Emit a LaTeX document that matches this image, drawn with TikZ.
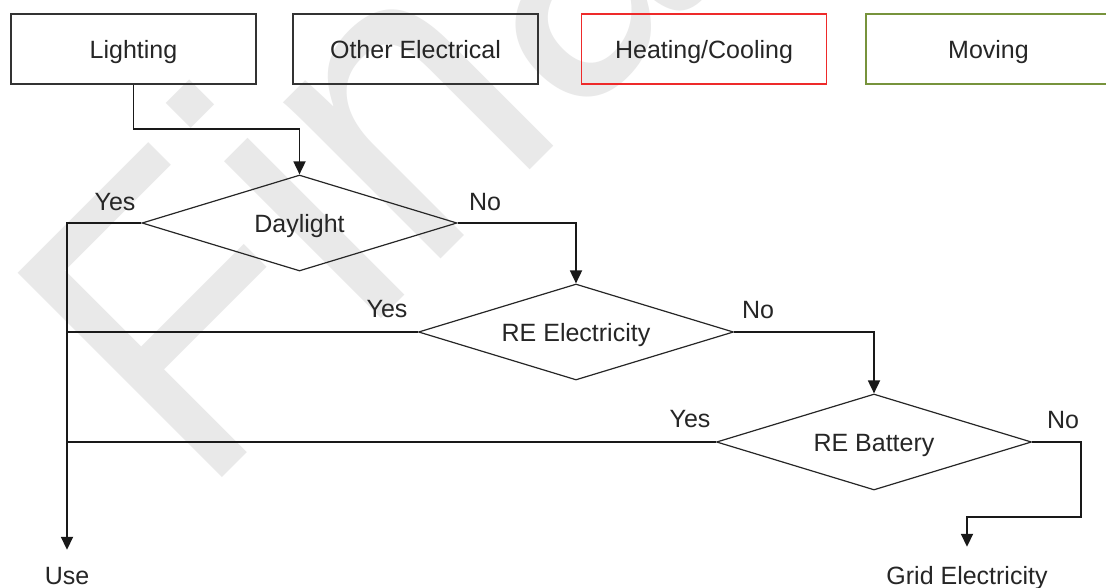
\documentclass[tikz,border=0pt]{standalone}
\usepackage{fontspec}
\setmainfont{Liberation Sans}
\newfontfamily\wmfont[FakeStretch=0.9]{Liberation Sans}
\usetikzlibrary{arrows.meta,shapes.geometric}
\definecolor{txt}{HTML}{262626}
\definecolor{boxgray}{HTML}{333333}
\definecolor{boxred}{HTML}{EE2A2A}
\definecolor{boxgreen}{HTML}{77933C}
\definecolor{wmark}{HTML}{E9E9E9}
\begin{document}
\begin{tikzpicture}[x=1pt,y=-1pt,
  lbl/.style={font=\fontsize{25}{30}\selectfont, text=txt, text height=18pt, text depth=0pt, inner sep=0pt},
  catbox/.style={draw=#1, line width=1.4pt, minimum width=245pt, minimum height=70pt, lbl},
  decision/.style={draw=black!85, line width=1.2pt, diamond, aspect=3.28, minimum width=315pt, minimum height=96pt, lbl},
  conn/.style={draw=black!90, line width=1.8pt},
  arr/.style={conn, -{Triangle[length=13pt,width=12pt]}}
]
\fill[white] (0,0) rectangle (1106,587);
\useasboundingbox (0,0) rectangle (1106,587);
% watermark
\node[text=wmark, font=\wmfont\fontsize{420}{420}\selectfont, rotate=45, anchor=base west, inner sep=0pt] (wm) at (200,500) {Final};
% category boxes
\node[catbox=boxgray] (light) at (133.5,49) {Lighting};
\node[catbox=boxgray] (other) at (415.5,49) {Other Electrical};
\node[catbox=boxred] (heat) at (704,49) {Heating/Cooling};
\node[catbox=boxgreen] (move) at (988.5,49) {Moving};
% decisions
\node[decision] (day) at (299.5,223) {Daylight};
\node[decision] (ree) at (576,332) {RE Electricity};
\node[decision] (reb) at (874,442) {RE Battery};
% end labels
\node[lbl, inner ysep=16pt] (use) at (67,575) {Use};
\node[lbl, inner ysep=19pt] (grid) at (967,575) {Grid Electricity};
% yes/no labels
\node[lbl] (y1) at (115,201) {Yes};
\node[lbl] (n1) at (485,201) {No};
\node[lbl] (y2) at (387,308) {Yes};
\node[lbl] (n2) at (758,309) {No};
\node[lbl] (y3) at (690,418) {Yes};
\node[lbl] (n3) at (1063,419) {No};
% connectors
\draw[arr] (light.south) -- (light.south |- 0,129) -| (day.north);
\draw[arr] (day.east) -| (ree.north);
\draw[arr] (ree.east) -| (reb.north);
\draw[arr] (reb.east) -| (1081,517) -| (grid.north);
\draw[arr] (day.west) -| (use.north);
\draw[conn] (ree.west) -- (ree.west -| use.north);
\draw[conn] (reb.west) -- (reb.west -| use.north);
\end{tikzpicture}
\end{document}
